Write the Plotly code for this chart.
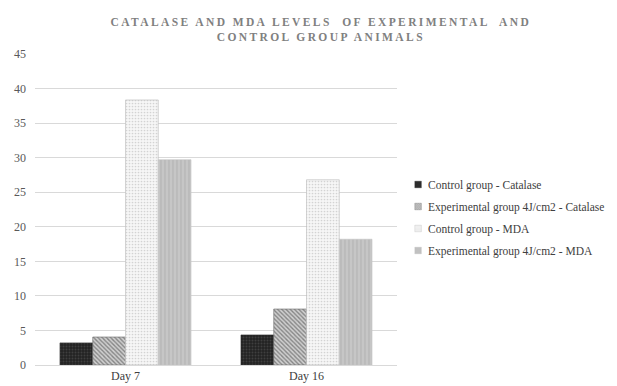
import plotly.graph_objects as go

days = ["Day 7", "Day 16"]
series_names = [
    "Control group - Catalase",
    "Experimental group 4J/cm2 - Catalase",
    "Control group - MDA",
    "Experimental group 4J/cm2 - MDA",
]
control_catalase = [3.2, 4.35]
experimental_catalase = [4.05, 8.1]
control_mda = [38.35, 26.8]
experimental_mda = [29.7, 18.2]
y_ticks = [0, 5, 10, 15, 20, 25, 30, 35, 40, 45]

values = [control_catalase, experimental_catalase, control_mda, experimental_mda]
styles = [
    dict(color="#222222", pattern=dict(shape=".", fgcolor="#5c5c5c", size=3, solidity=0.35)),
    dict(color="#cfcfcf", pattern=dict(shape="\\", fgcolor="#3c3c3c", size=3, solidity=0.45)),
    dict(color="#f6f6f6", pattern=dict(shape=".", fgcolor="#b0b0b0", size=3, solidity=0.25)),
    dict(color="#c6c6c6", pattern=dict(shape="|", fgcolor="#a8a8a8", size=4, solidity=0.35)),
]
outlines = ["#2a2a2a", "#6a6a6a", "#b8b8b8", "#c2c2c2"]

serif = "Liberation Serif, Times New Roman, serif"

fig = go.Figure()
for i, (name, vals, st, oc) in enumerate(zip(series_names, values, styles, outlines)):
    fig.add_trace(go.Bar(
        x=days, y=vals, name=name, legendgroup=f"g{i}",
        marker=dict(color=st["color"], pattern=st["pattern"],
                    line=dict(color=oc, width=0.6)),
    ))

fig.update_layout(
    width=617, height=386,
    paper_bgcolor="white", plot_bgcolor="white",
    margin=dict(l=35, r=220, t=54, b=21, autoexpand=False),
    barmode="group", bargap=0.276, bargroupgap=0,
    title=dict(
        text="<b>CATALASE AND MDA LEVELS  OF EXPERIMENTAL  AND<br>CONTROL GROUP ANIMALS</b>",
        x=0.52, xref="container", xanchor="center",
        y=1 - 26 / 386, yref="container", yanchor="middle",
        font=dict(family=serif, size=11.5, color="#808080"),
    ),
    font=dict(family=serif, size=12, color="#595959"),
    legend=dict(
        x=0.629, xref="container", xanchor="left",
        y=1 - 170 / 386, yref="container", yanchor="top",
        font=dict(family=serif, size=11.5, color="#404040"),
        itemwidth=30, tracegroupgap=3, bgcolor="rgba(0,0,0,0)",
    ),
    showlegend=True,
)
fig.update_yaxes(
    range=[0, 45], tickvals=y_ticks, showgrid=True, gridcolor="#d9d9d9", gridwidth=1,
    zeroline=False, showline=False, ticklabelstandoff=8,
    tickfont=dict(family=serif, size=12, color="#595959"),
)
fig.update_xaxes(
    showline=True, linecolor="#d9d9d9", linewidth=1, ticks="",
    tickfont=dict(family=serif, size=12, color="#404040"),
)

# widen the title's letter spacing; small legend swatches next to the labels
post_js = """
var t = document.querySelector('.gtitle');
if (t) { t.style.letterSpacing = '2.4px'; }
document.querySelectorAll('.legend .legendpoints path').forEach(function (p) {
  p.setAttribute('transform', 'translate(30,0) scale(0.55)');
});
"""
fig.write_html("out.html", post_script=post_js)
